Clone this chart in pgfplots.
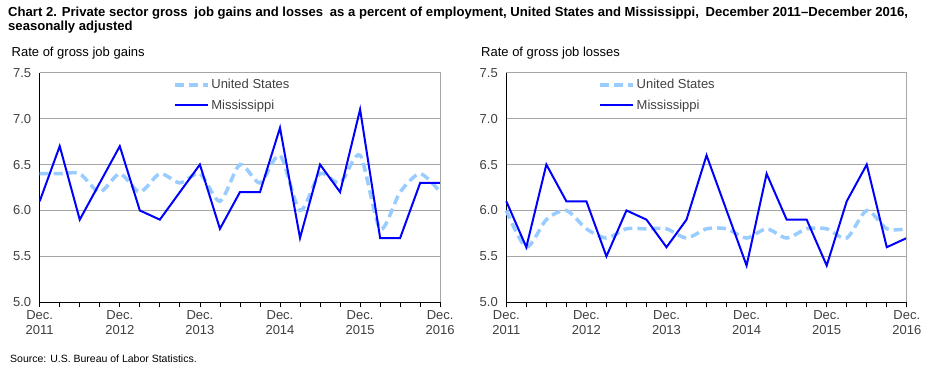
\documentclass[border=0pt]{standalone}
\usepackage{pgfplots}
\usepackage{pgfplotstable}
\pgfplotsset{compat=1.18}
\usepackage{fontspec}
\setmainfont{Liberation Sans}
\definecolor{usblue}{HTML}{99CCFF}
\definecolor{msblue}{HTML}{0000FF}
\definecolor{gridgray}{HTML}{A6A6A6}
\definecolor{labgray}{HTML}{404040}

\pgfplotstableread{
x us ms
0 6.4 6.1
1 6.4 6.7
2 6.4 5.9
3 6.2 6.3
4 6.4 6.7
5 6.2 6.0
6 6.4 5.9
7 6.3 6.2
8 6.4 6.5
9 6.1 5.8
10 6.5 6.2
11 6.3 6.2
12 6.6 6.9
13 6.0 5.7
14 6.4 6.5
15 6.3 6.2
16 6.6 7.1
17 5.8 5.7
18 6.2 5.7
19 6.4 6.3
20 6.2 6.3
}\gains

\pgfplotstableread{
x us ms
0 6.0 6.1
1 5.6 5.6
2 5.9 6.5
3 6.0 6.1
4 5.8 6.1
5 5.7 5.5
6 5.8 6.0
7 5.8 5.9
8 5.8 5.6
9 5.7 5.9
10 5.8 6.6
11 5.8 6.0
12 5.7 5.4
13 5.8 6.4
14 5.7 5.9
15 5.8 5.9
16 5.8 5.4
17 5.7 6.1
18 6.0 6.5
19 5.8 5.6
20 5.8 5.7
}\losses

\pgfplotsset{
  myaxis/.style={
    scale only axis, width=400.5pt, height=229.6pt,
    xmin=0, xmax=20, ymin=5, ymax=7.5,
    /pgf/number format/assume math mode=true,
    ytick={5,5.5,6,6.5,7,7.5},
    yticklabel={\pgfmathprintnumber[fixed,fixed zerofill,precision=1]{\tick}},
    ytick style={draw=none},
    yticklabel style={font=\fontsize{13}{14}\selectfont, text=labgray},
    xtick={0,...,20},
    xticklabels={{Dec.\\2011},{},{},{},{Dec.\\2012},{},{},{},{Dec.\\2013},{},{},{},{Dec.\\2014},{},{},{},{Dec.\\2015},{},{},{},{Dec.\\2016}},
    xticklabel style={align=center, font=\fontsize{13}{14.6}\selectfont, text=labgray},
    tick align=outside, major tick length=5pt,
    xtick style={black, line width=0.8pt},
    axis x line*=bottom, axis y line*=left,
    axis line style={-, black, line width=0.8pt},
    ymajorgrids, grid style={gridgray, line width=0.8pt},
    clip=false,
    legend style={draw=none, fill=none, font=\fontsize{13}{14}\selectfont, text=labgray,
      row sep=5.5pt, inner sep=0pt, cells={anchor=west}},
    legend cell align=left,
    legend image code/.code={\draw[#1] (0pt,0pt) -- (33pt,0pt);},
    after end axis/.code={\draw[gridgray, line width=0.8pt] (rel axis cs:1,0) -- (rel axis cs:1,1) -- (rel axis cs:0,1);},
  },
  usline/.style={usblue, line width=3.5pt, dash pattern=on 9pt off 5pt, smooth, tension=0.45},
  msline/.style={msblue, line width=2pt},
}

\begin{document}
\begin{tikzpicture}[x=1pt,y=1pt]
\path (0,0) rectangle (930,372);

\node[anchor=base west, inner sep=0pt, font=\bfseries\fontsize{13.1}{15}\selectfont] at (8,355.5)
  {Chart 2. Private sector gross\hspace{3pt} job gains and losses\hspace{3pt} as a percent of employment, United States and Mississippi,\hspace{3pt} December 2011--December 2016,};
\node[anchor=base west, inner sep=0pt, font=\bfseries\fontsize{13.1}{15}\selectfont] at (8,341)
  {seasonally adjusted};
\node[anchor=base west, inner sep=0pt, font=\fontsize{13}{14}\selectfont] at (11.5,315.3) {Rate of gross job gains};
\node[anchor=base west, inner sep=0pt, font=\fontsize{13}{14}\selectfont] at (481,315.3) {Rate of gross job losses};
\node[anchor=base west, inner sep=0pt, font=\fontsize{10.5}{12}\selectfont] at (10,9) {Source: U.S. Bureau of Labor Statistics.};

\begin{axis}[myaxis, at={(39.7pt,69.7pt)}, anchor=south west,
  legend style={at={(rel axis cs:0.332,0.98)}, anchor=north west}]
  \addplot[usline] table[x=x,y=us] {\gains};
  \addlegendentry{United States}
  \addplot[msline] table[x=x,y=ms] {\gains};
  \addlegendentry{Mississippi}
\end{axis}

\begin{axis}[myaxis, at={(506.3pt,69.7pt)}, anchor=south west,
  legend style={at={(rel axis cs:0.229,0.98)}, anchor=north west}]
  \addplot[usline] table[x=x,y=us] {\losses};
  \addlegendentry{United States}
  \addplot[msline] table[x=x,y=ms] {\losses};
  \addlegendentry{Mississippi}
\end{axis}
\end{tikzpicture}
\end{document}
